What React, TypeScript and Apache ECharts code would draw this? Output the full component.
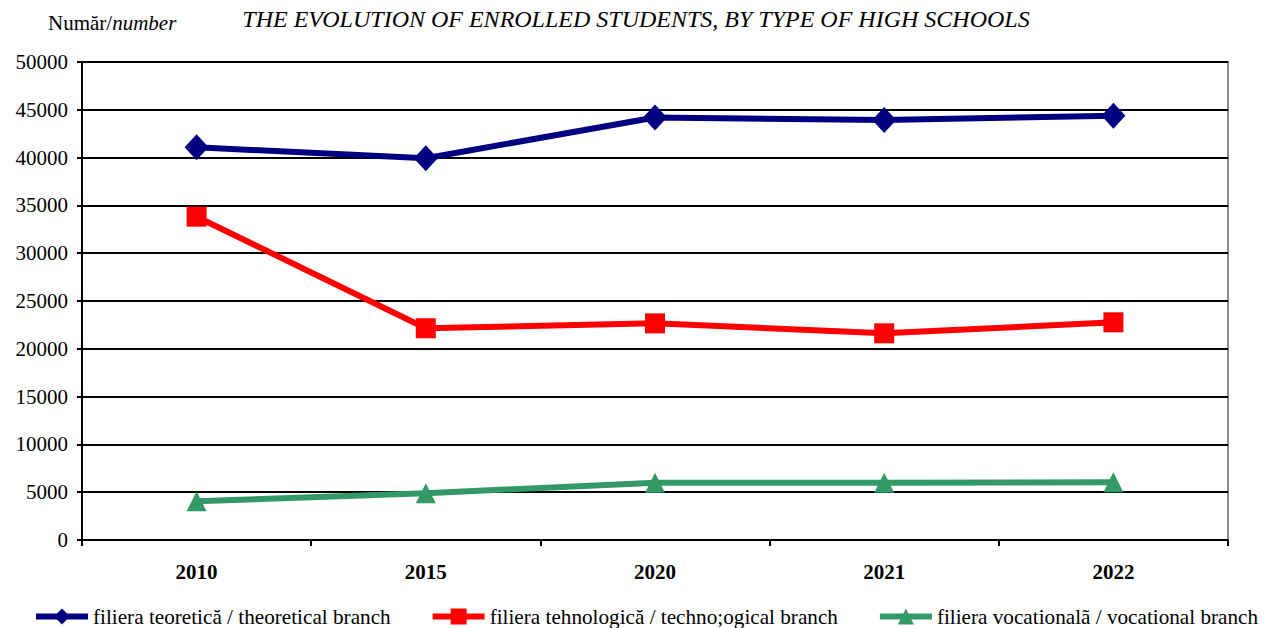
import React, { useEffect, useRef } from "react";
import * as echarts from "echarts";

const years = ["2010", "2015", "2020", "2021", "2022"];
const theoretical = [41070, 39930, 44200, 43930, 44380];
const technological = [33820, 22150, 22660, 21620, 22770];
const vocational = [4050, 4900, 6000, 5990, 6050];
const seriesNames = [
  "filiera teoretică / theoretical branch",
  "filiera tehnologică / techno;ogical branch",
  "filiera vocationalã / vocational branch",
];
const yTicks = { min: 0, max: 50000, interval: 5000 };

const SERIF = "Liberation Serif";

export default function App() {
  const ref = useRef<HTMLDivElement>(null);
  useEffect(() => {
    document.body.style.margin = "0";
    const chart = echarts.init(ref.current!, undefined, { renderer: "svg" });
    chart.setOption({
      animation: false,
      backgroundColor: "#ffffff",
      textStyle: { fontFamily: SERIF },
      grid: {
        left: 82,
        right: 41,
        top: 62,
        bottom: 88,
        show: true,
        borderColor: "#8c8c8c",
        borderWidth: 2,
      },
      graphic: [
        {
          type: "text",
          left: 48,
          top: 12,
          style: {
            text: "{a|Număr/}{b|number}",
            rich: {
              a: { fontFamily: SERIF, fontSize: 21, fill: "#000" },
              b: { fontFamily: SERIF, fontSize: 21, fontStyle: "italic", fill: "#000" },
            },
          },
        },
        {
          type: "text",
          x: 636,
          y: 7,
          style: {
            text: "THE EVOLUTION OF ENROLLED STUDENTS, BY TYPE OF HIGH SCHOOLS",
            fontFamily: SERIF,
            fontSize: 24,
            fontStyle: "italic",
            fill: "#000",
            align: "center",
          },
        },
      ],
      legend: {
        top: 606,
        left: 33,
        width: 1236,
        padding: 0,
        itemWidth: 52,
        itemHeight: 20,
        itemGap: 39,
        lineStyle: { width: 6 },
        textStyle: { fontFamily: SERIF, fontSize: 21.2, color: "#000" },
        data: seriesNames,
      },
      xAxis: {
        type: "category",
        data: years,
        boundaryGap: true,
        axisLine: { lineStyle: { color: "#000", width: 2 } },
        axisTick: { show: true, length: 6, lineStyle: { color: "#000", width: 2 } },
        axisLabel: {
          fontFamily: SERIF,
          fontSize: 21,
          fontWeight: "bold",
          color: "#000",
          margin: 21,
        },
      },
      yAxis: {
        type: "value",
        min: yTicks.min,
        max: yTicks.max,
        interval: yTicks.interval,
        axisLine: { show: true, lineStyle: { color: "#000", width: 2 } },
        axisTick: { show: true, length: 5, lineStyle: { color: "#000", width: 2 } },
        splitLine: { lineStyle: { color: "#000", width: 2 } },
        axisLabel: {
          fontFamily: SERIF,
          fontSize: 21,
          color: "#000",
          margin: 14,
          formatter: (v: number) => String(v),
        },
      },
      series: [
        {
          name: seriesNames[0],
          type: "line",
          data: theoretical,
          symbol: "diamond",
          symbolSize: [24, 26],
          lineStyle: { color: "#000080", width: 6 },
          itemStyle: { color: "#000080" },
          z: 5,
        },
        {
          name: seriesNames[1],
          type: "line",
          data: technological,
          symbol: "rect",
          symbolSize: 20,
          lineStyle: { color: "#ff0000", width: 6 },
          itemStyle: { color: "#ff0000" },
          z: 4,
        },
        {
          name: seriesNames[2],
          type: "line",
          data: vocational,
          symbol: "triangle",
          symbolSize: 20,
          lineStyle: { color: "#339966", width: 6 },
          itemStyle: { color: "#339966" },
          z: 3,
        },
      ],
    });
    return () => chart.dispose();
  }, []);
  return (
    <div
      ref={ref}
      style={{ position: "absolute", left: 0, top: 0, width: 1269, height: 628 }}
    />
  );
}
